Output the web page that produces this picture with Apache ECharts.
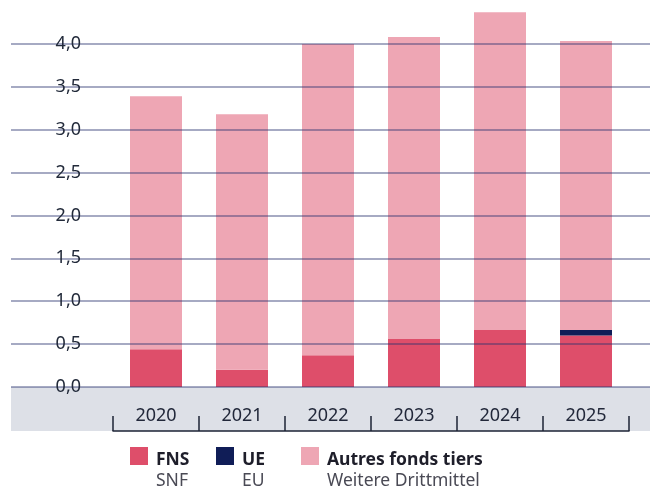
<!DOCTYPE html>
<html>
<head>
<meta charset="utf-8">
<script src="https://cdn.jsdelivr.net/npm/echarts@6/dist/echarts.min.js"></script>
<style>
  html, body { margin: 0; padding: 0; background: #fff; }
  #chart { width: 650px; height: 497px; }
</style>
</head>
<body>
<div id="chart"></div>
<script>
// données (millions)
var years = ['2020', '2021', '2022', '2023', '2024', '2025'];
var fns = [0.44, 0.2, 0.37, 0.56, 0.665, 0.6];
var ue = [0, 0, 0, 0, 0, 0.065];
var autres = [2.95, 2.98, 3.63, 3.52, 3.705, 3.37];

var seriesNames = ['FNS', 'UE', 'Autres fonds tiers'];
var seriesSub = ['SNF', 'EU', 'Weitere Drittmittel'];

var fontFamily = '"Noto Sans", sans-serif';

// une légende par série (espacements inégaux dans l'original)
var legendLeft = [130, 216, 301];
var legends = seriesNames.map(function(name, i) {
  return {
    left: legendLeft[i],
    top: 447,
    padding: 0,
    selectedMode: false,
    icon: 'rect',
    itemWidth: 18,
    itemHeight: 18,
    textStyle: {
      padding: [30, 0, 0, 3],
      rich: {
        a: { fontSize: 17.5, fontWeight: 'bold', color: '#1e1e2a', lineHeight: 21, fontFamily: fontFamily },
        b: { fontSize: 17.5, color: '#4a4a55', lineHeight: 21, fontFamily: fontFamily }
      }
    },
    data: [name],
    formatter: function(n) {
      return '{a|' + n + '}\n{b|' + seriesSub[seriesNames.indexOf(n)] + '}';
    }
  };
});

var chart = echarts.init(document.getElementById('chart'));

chart.setOption({
  animation: false,
  textStyle: { fontFamily: fontFamily },
  // bande grise sous l'axe
  graphic: [{
    type: 'rect',
    z: -10,
    silent: true,
    shape: { x: 11, y: 387, width: 639, height: 44 },
    style: { fill: '#dde0e7' }
  }],
  grid: [
    // grille large pour les lignes horizontales
    { left: 11, right: 0, top: 1, bottom: 110 },
    // grille des barres
    { left: 113, right: 21, top: 1, bottom: 110 },
    // axe des années (dans la bande grise)
    { left: 113, right: 21, top: 387, bottom: 66 }
  ],
  xAxis: [
    { type: 'value', gridIndex: 0, show: false },
    { type: 'category', gridIndex: 1, data: years, show: false },
    {
      type: 'category',
      gridIndex: 2,
      data: years,
      position: 'bottom',
      axisLine: { show: true, lineStyle: { color: '#1d2336', width: 1.5 } },
      axisTick: { show: true, inside: true, length: 15, lineStyle: { color: '#1d2336', width: 1.5 } },
      axisLabel: {
        inside: true,
        margin: 6,
        fontSize: 18,
        color: '#22283a'
      }
    }
  ],
  yAxis: [
    {
      type: 'value',
      gridIndex: 0,
      min: 0,
      max: 4.5,
      interval: 0.5,
      z: 5,
      axisLine: { show: false },
      axisTick: { show: false },
      splitLine: {
        show: true,
        showMaxLine: false,
        lineStyle: { color: 'rgba(40,50,110,0.55)', width: 1.5 }
      },
      axisLabel: {
        inside: true,
        margin: 70,
        align: 'right',
        verticalAlign: 'middle',
        padding: [0, 0, 15, 0],
        showMaxLabel: false,
        fontSize: 18,
        color: '#222a3a',
        formatter: function(v) {
          return v.toFixed(1).replace('.', ',');
        }
      }
    },
    { type: 'value', gridIndex: 1, min: 0, max: 4.5, show: false },
    { type: 'value', gridIndex: 2, show: false }
  ],
  legend: legends,
  series: [
    {
      name: seriesNames[0], type: 'bar', stack: 'total', xAxisIndex: 1, yAxisIndex: 1,
      barWidth: 52, itemStyle: { color: '#de4e6a' }, data: fns
    },
    {
      name: seriesNames[1], type: 'bar', stack: 'total', xAxisIndex: 1, yAxisIndex: 1,
      barWidth: 52, itemStyle: { color: '#101d57' }, data: ue
    },
    {
      name: seriesNames[2], type: 'bar', stack: 'total', xAxisIndex: 1, yAxisIndex: 1,
      barWidth: 52, itemStyle: { color: '#eea6b4' }, data: autres
    }
  ]
});
</script>
</body>
</html>
